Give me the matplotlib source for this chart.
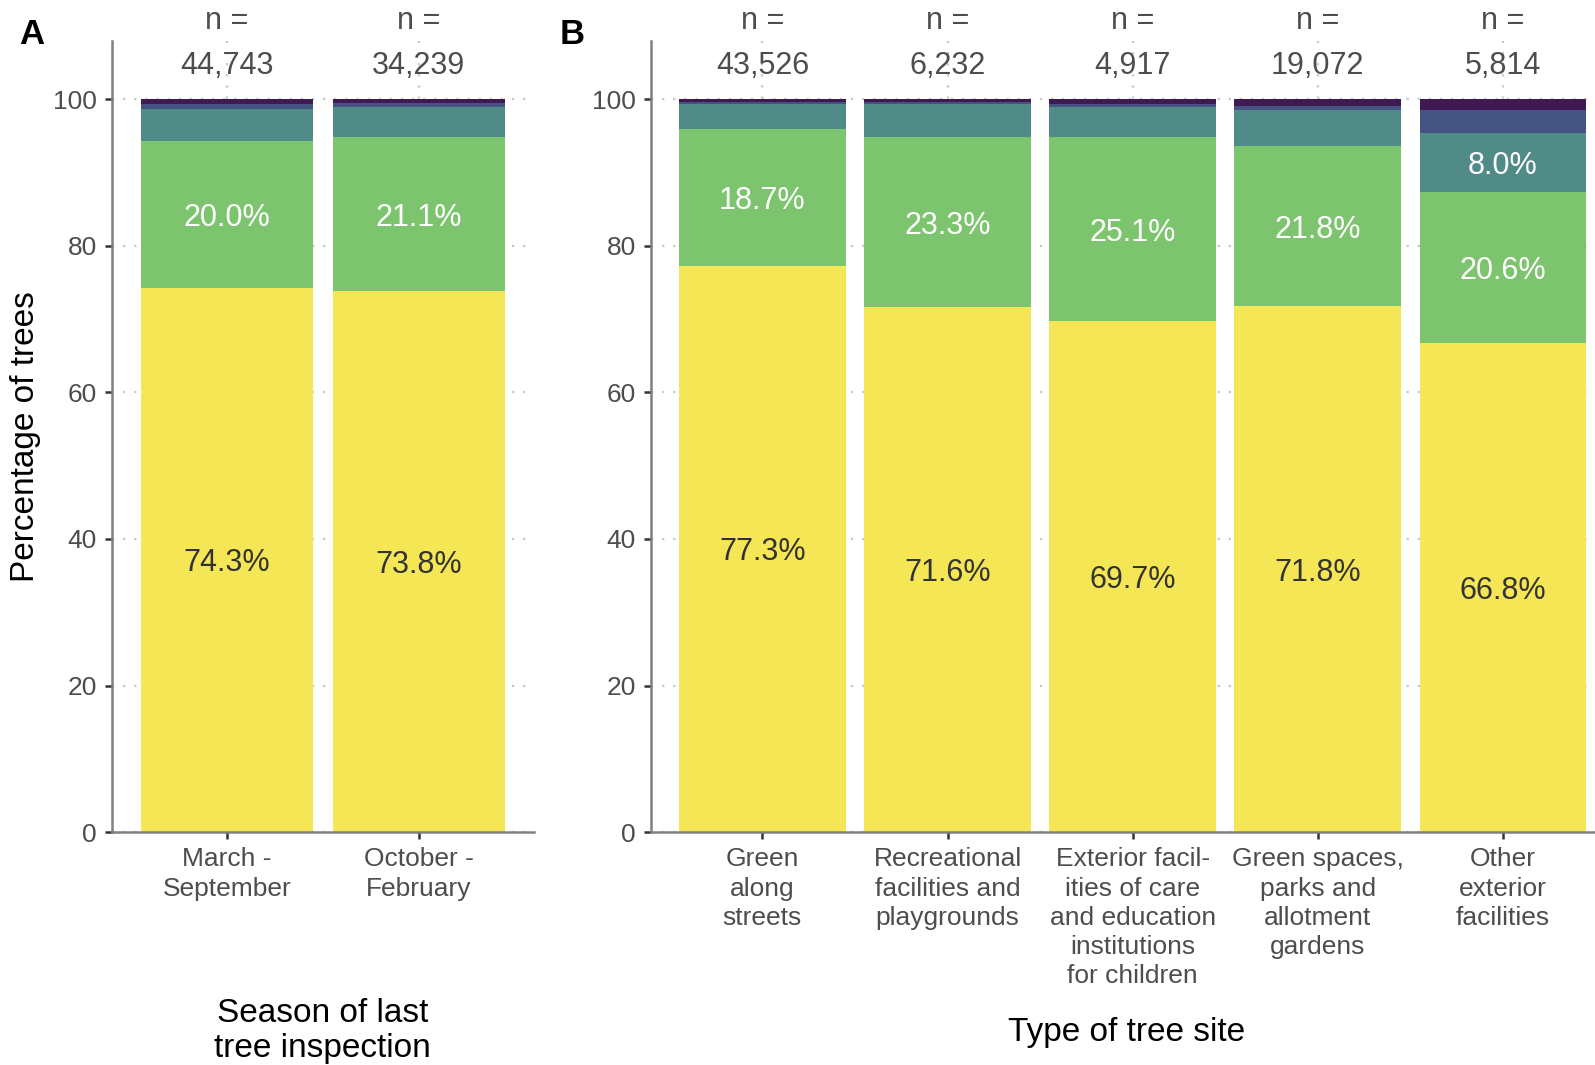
import numpy as np
import matplotlib
matplotlib.use("Agg")
import matplotlib.pyplot as plt

plt.rcParams['font.family'] = ['Liberation Sans', 'DejaVu Sans']

# colours from bottom (largest class) to top
colors = ['#f5e655', '#7dc46f', '#508b88', '#455383', '#3f1a52']

# Panel A: season of last inspection
season_labels = ['March -\nSeptember', 'October -\nFebruary']
season_n      = ['44,743', '34,239']
season_yellow = [74.3, 73.8]
season_green  = [20.0, 21.1]
season_teal   = [4.34, 4.1]
season_blue   = [0.68, 0.5]
season_purple = [0.68, 0.5]

# Panel B: type of tree site
site_labels = ['Green\nalong\nstreets', 'Recreational\nfacilities and\nplaygrounds',
               'Exterior facil-\nities of care\nand education\ninstitutions\nfor children',
               'Green spaces,\nparks and\nallotment\ngardens', 'Other\nexterior\nfacilities']
site_n      = ['43,526', '6,232', '4,917', '19,072', '5,814']
site_yellow = [77.3, 71.6, 69.7, 71.8, 66.8]
site_green  = [18.7, 23.3, 25.1, 21.8, 20.6]
site_teal   = [3.3, 4.4, 4.2, 4.9, 8.0]
site_blue   = [0.3, 0.3, 0.3, 0.6, 3.2]
site_purple = [0.4, 0.4, 0.7, 0.9, 1.4]

W, H = 1595, 1065


def draw_panel(ax, labels, n_str, series):
  x = np.arange(len(labels))
  bottom = np.zeros(len(labels))
  for k, vals in enumerate(series):
    vals = np.array(vals)
    ax.bar(x, vals, 0.9, bottom=bottom, color=colors[k], zorder=2, linewidth=0)
    for i, v in enumerate(vals):
      if v >= 5:
        ax.text(x[i], bottom[i] + v / 2, f"{v:.1f}%", ha='center', va='center_baseline', fontsize=22,
                color='#333333' if k == 0 else 'white', zorder=3)
    bottom += vals
  for i, s in enumerate(n_str):
    ax.text(x[i], 111.15, 'n =', ha='center', va='center_baseline', fontsize=22, color='#4d4d4d', clip_on=False)
    ax.text(x[i], 105.05, s, ha='center', va='center_baseline', fontsize=22, color='#4d4d4d', clip_on=False)
  ax.set_xlim(-0.6, len(labels) - 0.4)
  ax.set_ylim(0, 108)
  ax.set_xticks(x)
  ax.set_xticklabels(labels, linespacing=1.27)
  ax.set_yticks([0, 20, 40, 60, 80, 100])
  ax.grid(True, linestyle=(0, (1, 4)), color='#c8c8c8', linewidth=1.6)
  ax.set_axisbelow(True)
  for side in ['top', 'right']:
    ax.spines[side].set_visible(False)
  for side in ['left', 'bottom']:
    ax.spines[side].set_color('#808080')
    ax.spines[side].set_linewidth(1.8)
  ax.tick_params(axis='both', colors='#333333', labelcolor='#4d4d4d', labelsize=19,
                 length=5, width=1.8)
  ax.tick_params(axis='y', pad=6)
  ax.tick_params(axis='x', pad=6)


fig = plt.figure(figsize=(W / 100, H / 100), dpi=100)
bot = 1 - 832.1 / H
hgt = (832.1 - 40.7) / H
axA = fig.add_axes([112 / W, bot, (534 - 112) / W, hgt])
axB = fig.add_axes([651.3 / W, bot, (1614 - 651.3) / W, hgt])

draw_panel(axA, season_labels, season_n,
           [season_yellow, season_green, season_teal, season_blue, season_purple])
draw_panel(axB, site_labels, site_n,
           [site_yellow, site_green, site_teal, site_blue, site_purple])

fig.text(19 / W, 1 - 34 / H, 'A', fontsize=25, fontweight='bold', va='center', ha='left')
fig.text(560 / W, 1 - 34 / H, 'B', fontsize=25, fontweight='bold', va='center', ha='left')
fig.text(25.5 / W, 1 - 437 / H, 'Percentage of trees', rotation=90, fontsize=24,
         ha='center', va='center')
fig.text(322.5 / W, 1 - 1031 / H, 'Season of last\ntree inspection', fontsize=24,
         ha='center', va='center', linespacing=1.15)
fig.text(1127 / W, 1 - 1032 / H, 'Type of tree site', fontsize=24, ha='center', va='center')

fig.savefig('out.png', dpi=100)
